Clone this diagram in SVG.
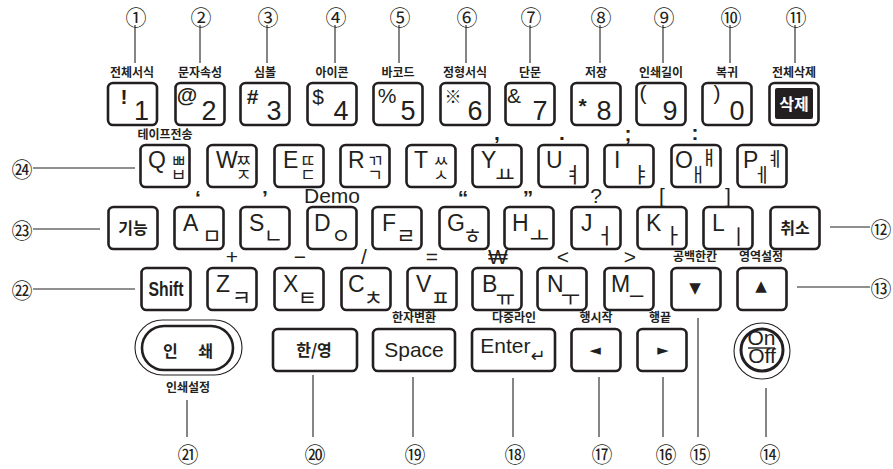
<svg xmlns="http://www.w3.org/2000/svg" width="893" height="469" viewBox="0 0 893 469">
<style>
.key{fill:#fff;stroke:#231f20;stroke-width:2.6}
.lead{stroke:#231f20;stroke-width:1.1;fill:none}
text{fill:#231f20}
.num{font-family:'Noto Sans CJK KR',sans-serif;font-size:21px;text-anchor:middle;dominant-baseline:central}
.lbl{font-family:'Noto Sans CJK KR',sans-serif;font-weight:700;font-size:12px;text-anchor:middle}
.sym{font-family:'Liberation Sans',Arial,'DejaVu Sans',sans-serif;font-size:21px;text-anchor:middle}
.dig{font-family:'Liberation Sans',Arial,sans-serif;font-size:27px;text-anchor:middle}
.let{font-family:'Liberation Sans',Arial,sans-serif;font-size:23px;text-anchor:start}
.jm{font-family:'Noto Sans CJK KR',sans-serif;font-size:21px;text-anchor:middle}
.js{font-family:'Noto Sans CJK KR',sans-serif;font-size:17px;text-anchor:middle}
.jv{font-family:'Noto Sans CJK KR',sans-serif;font-size:19px;text-anchor:middle}
.kb{font-family:'Noto Sans CJK KR',sans-serif;font-weight:700;font-size:16px;text-anchor:middle}
.b{font-weight:700}
.ar{font-family:'DejaVu Sans',sans-serif;font-size:15px;text-anchor:middle}
</style>

<g id="connectors">
<line class="lead" x1="135" y1="25" x2="135" y2="63"/>
<line class="lead" x1="200" y1="25" x2="200" y2="63"/>
<line class="lead" x1="267" y1="25" x2="267" y2="63"/>
<line class="lead" x1="335" y1="25" x2="335" y2="63"/>
<line class="lead" x1="399" y1="25" x2="399" y2="63"/>
<line class="lead" x1="466" y1="25" x2="466" y2="63"/>
<line class="lead" x1="530" y1="25" x2="530" y2="63"/>
<line class="lead" x1="600" y1="25" x2="600" y2="63"/>
<line class="lead" x1="663" y1="25" x2="663" y2="63"/>
<line class="lead" x1="730" y1="25" x2="730" y2="63"/>
<line class="lead" x1="795" y1="25" x2="795" y2="63"/>
<line class="lead" x1="33" y1="168" x2="135" y2="168"/>
<line class="lead" x1="33" y1="229" x2="100" y2="229"/>
<line class="lead" x1="33" y1="289" x2="135" y2="289"/>
<line class="lead" x1="830" y1="227" x2="870" y2="227"/>
<line class="lead" x1="797" y1="287" x2="870" y2="287"/>
<line class="lead" x1="187" y1="400" x2="187" y2="437"/>
<line class="lead" x1="313" y1="375" x2="313" y2="437"/>
<line class="lead" x1="413" y1="377" x2="413" y2="437"/>
<line class="lead" x1="513" y1="378" x2="513" y2="437"/>
<line class="lead" x1="599" y1="377" x2="599" y2="437"/>
<line class="lead" x1="663" y1="377" x2="663" y2="437"/>
<line class="lead" x1="698" y1="318" x2="698" y2="437"/>
<line class="lead" x1="766" y1="388" x2="766" y2="437"/>
</g>

<g id="callouts">
<text class="num" x="136" y="16">①</text>
<text class="num" x="201" y="16">②</text>
<text class="num" x="268" y="16">③</text>
<text class="num" x="336" y="16">④</text>
<text class="num" x="400" y="16">⑤</text>
<text class="num" x="467" y="16">⑥</text>
<text class="num" x="531" y="16">⑦</text>
<text class="num" x="601" y="16">⑧</text>
<text class="num" x="664" y="16">⑨</text>
<text class="num" x="731" y="16">⑩</text>
<text class="num" x="796" y="16">⑪</text>
<text class="num" x="881" y="228">⑫</text>
<text class="num" x="881" y="287">⑬</text>
<text class="num" x="770" y="453">⑭</text>
<text class="num" x="700" y="453">⑮</text>
<text class="num" x="666" y="453">⑯</text>
<text class="num" x="602" y="453">⑰</text>
<text class="num" x="515" y="453">⑱</text>
<text class="num" x="415" y="453">⑲</text>
<text class="num" x="315" y="453">⑳</text>
<text class="num" x="188" y="453">㉑</text>
<text class="num" x="22" y="289">㉒</text>
<text class="num" x="22" y="229">㉓</text>
<text class="num" x="22" y="168">㉔</text>
</g>

<g id="labels">
<text class="lbl" x="132" y="77">전체서식</text>
<text class="lbl" x="200" y="77">문자속성</text>
<text class="lbl" x="265" y="77">심볼</text>
<text class="lbl" x="332" y="77">아이콘</text>
<text class="lbl" x="398" y="77">바코드</text>
<text class="lbl" x="465" y="77">정형서식</text>
<text class="lbl" x="530" y="77">단문</text>
<text class="lbl" x="596" y="77">저장</text>
<text class="lbl" x="661" y="77">인쇄길이</text>
<text class="lbl" x="727" y="77">복귀</text>
<text class="lbl" x="794" y="77">전체삭제</text>
<text class="lbl" x="165" y="139">테이프전송</text>
<text class="lbl" x="695" y="261">공백한칸</text>
<text class="lbl" x="761" y="261">영역설정</text>
<text class="lbl" x="414" y="322">한자변환</text>
<text class="lbl" x="514" y="322">다중라인</text>
<text class="lbl" x="596" y="322">행시작</text>
<text class="lbl" x="660" y="322">행끝</text>
<text class="lbl" x="188" y="392">인쇄설정</text>
<text class="sym b" x="497" y="140" font-size="16">,</text>
<text class="sym b" x="562" y="140" font-size="16">.</text>
<text class="sym b" x="628" y="141" font-size="16">;</text>
<text class="sym b" x="695" y="140" font-size="16">:</text>
<text class="sym b" x="198" y="205" font-size="18">‘</text>
<text class="sym b" x="265" y="205" font-size="18">’</text>
<text class="sym" x="332" y="203" font-size="15">Demo</text>
<text class="sym b" x="463" y="205" font-size="18">“</text>
<text class="sym b" x="528" y="205" font-size="18">”</text>
<text class="sym" x="596" y="203" font-size="17">?</text>
<text class="sym" x="662" y="203" font-size="17">[</text>
<text class="sym" x="728" y="203" font-size="17">]</text>
<text class="sym" x="232" y="264" font-size="20">+</text>
<text class="sym" x="300" y="264" font-size="20">−</text>
<text class="sym" x="364" y="264" font-size="20">/</text>
<text class="sym" x="432" y="264" font-size="20">=</text>
<text class="sym" x="498" y="264" font-size="20">₩</text>
<text class="sym" x="563" y="264" font-size="20">&lt;</text>
<text class="sym" x="630" y="264" font-size="20">&gt;</text>
</g>

<!-- Row 1 -->
<g id="key-1"><rect class="key" x="108" y="83" width="49" height="42" rx="5"/><text class="sym b" x="124" y="104">!</text><text class="dig" x="141.5" y="120">1</text></g>
<g id="key-2"><rect class="key" x="175.5" y="83" width="49" height="42" rx="5"/><text class="sym b" x="187" y="102" font-size="19">@</text><text class="dig" x="209" y="120">2</text></g>
<g id="key-3"><rect class="key" x="240.5" y="83" width="49" height="42" rx="5"/><text class="sym b" x="252.5" y="104">#</text><text class="dig" x="274" y="120">3</text></g>
<g id="key-4"><rect class="key" x="307.5" y="83" width="49" height="42" rx="5"/><text class="sym" x="318" y="104">$</text><text class="dig" x="341" y="120">4</text></g>
<g id="key-5"><rect class="key" x="373.5" y="83" width="49" height="42" rx="5"/><text class="sym" x="387" y="103" font-size="19">%</text><text class="dig" x="408" y="120">5</text></g>
<g id="key-6"><rect class="key" x="440.5" y="83" width="49" height="42" rx="5"/><text class="js" x="453" y="103" font-size="17">※</text><text class="dig" x="475" y="120">6</text></g>
<g id="key-7"><rect class="key" x="505.5" y="83" width="49" height="42" rx="5"/><text class="sym" x="514" y="103" font-size="19">&amp;</text><text class="dig" x="540" y="120">7</text></g>
<g id="key-8"><rect class="key" x="571.5" y="83" width="49" height="42" rx="5"/><text class="sym b" x="582.5" y="113" font-size="30">*</text><text class="dig" x="604" y="120">8</text></g>
<g id="key-9"><rect class="key" x="636.5" y="83" width="49" height="42" rx="5"/><text class="sym" x="643" y="100" font-size="14">(</text><text class="dig" x="670" y="120">9</text></g>
<g id="key-0"><rect class="key" x="702.5" y="83" width="49" height="42" rx="5"/><text class="sym" x="717" y="100" font-size="14">)</text><text class="dig" x="737" y="120">0</text></g>
<g id="key-delete"><rect class="key" x="769.5" y="83" width="49" height="42" rx="5"/><rect x="775" y="88" width="38" height="31" rx="2" fill="#231f20"/><text class="kb" x="794" y="110" font-size="17" style="fill:#fff">삭제</text></g>

<!-- Row 2 -->
<g id="key-q"><rect class="key" x="140.5" y="145" width="49" height="42" rx="5"/><text class="let"><tspan x="148" y="168">Q</tspan><tspan class="js" x="178.5" y="167">ㅃ</tspan><tspan class="js" x="178.5" y="181">ㅂ</tspan></text></g>
<g id="key-w"><rect class="key" x="207.5" y="145" width="49" height="42" rx="5"/><text class="let"><tspan x="216" y="168">W</tspan><tspan class="js" x="243.5" y="167">ㅉ</tspan><tspan class="js" x="243.5" y="181">ㅈ</tspan></text></g>
<g id="key-e"><rect class="key" x="274.5" y="145" width="49" height="42" rx="5"/><text class="let"><tspan x="283" y="168">E</tspan><tspan class="js" x="308" y="167">ㄸ</tspan><tspan class="js" x="308" y="181">ㄷ</tspan></text></g>
<g id="key-r"><rect class="key" x="340.5" y="145" width="49" height="42" rx="5"/><text class="let"><tspan x="348" y="168">R</tspan><tspan class="js" x="375" y="167">ㄲ</tspan><tspan class="js" x="375" y="181">ㄱ</tspan></text></g>
<g id="key-t"><rect class="key" x="406.5" y="145" width="49" height="42" rx="5"/><text class="let"><tspan x="414" y="168">T</tspan><tspan class="js" x="441" y="167">ㅆ</tspan><tspan class="js" x="441" y="181">ㅅ</tspan></text></g>
<g id="key-y"><rect class="key" x="472.5" y="145" width="49" height="42" rx="5"/><text class="let"><tspan x="481" y="168">Y</tspan><tspan class="jm" x="505" y="182">ㅛ</tspan></text></g>
<g id="key-u"><rect class="key" x="538.5" y="145" width="49" height="42" rx="5"/><text class="let"><tspan x="546" y="168">U</tspan><tspan class="jm" x="573" y="182">ㅕ</tspan></text></g>
<g id="key-i"><rect class="key" x="604.5" y="145" width="49" height="42" rx="5"/><text class="let"><tspan x="614" y="168">I</tspan><tspan class="jm" x="641" y="182">ㅑ</tspan></text></g>
<g id="key-o"><rect class="key" x="671.5" y="145" width="49" height="42" rx="5"/><text class="let"><tspan x="675" y="168">O</tspan><tspan class="jv" x="698" y="182">ㅐ</tspan><tspan class="jv" x="709" y="165">ㅒ</tspan></text></g>
<g id="key-p"><rect class="key" x="737.5" y="145" width="49" height="42" rx="5"/><text class="let"><tspan x="743" y="168">P</tspan><tspan class="jv" x="762" y="182">ㅔ</tspan><tspan class="jv" x="775" y="166">ㅖ</tspan></text></g>

<!-- Row 3 -->
<g id="key-function"><rect class="key" x="108.5" y="207" width="49" height="42" rx="5"/><text class="kb" x="133" y="234">기능</text></g>
<g id="key-a"><rect class="key" x="174.5" y="207" width="49" height="42" rx="5"/><text class="let"><tspan x="183" y="231">A</tspan><tspan class="jm" x="212" y="243">ㅁ</tspan></text></g>
<g id="key-s"><rect class="key" x="240.5" y="207" width="49" height="42" rx="5"/><text class="let"><tspan x="249" y="231">S</tspan><tspan class="jm" x="273.5" y="243">ㄴ</tspan></text></g>
<g id="key-d"><rect class="key" x="307.5" y="207" width="49" height="42" rx="5"/><text class="let"><tspan x="314" y="231">D</tspan><tspan class="jm" x="341" y="243">ㅇ</tspan></text></g>
<g id="key-f"><rect class="key" x="372.5" y="207" width="49" height="42" rx="5"/><text class="let"><tspan x="382" y="231">F</tspan><tspan class="jm" x="406" y="243">ㄹ</tspan></text></g>
<g id="key-g"><rect class="key" x="439.5" y="207" width="49" height="42" rx="5"/><text class="let"><tspan x="447" y="231">G</tspan><tspan class="jm" x="472.5" y="243">ㅎ</tspan></text></g>
<g id="key-h"><rect class="key" x="504.5" y="207" width="49" height="42" rx="5"/><text class="let"><tspan x="512" y="231">H</tspan><tspan class="jm" x="539.5" y="243">ㅗ</tspan></text></g>
<g id="key-j"><rect class="key" x="571.5" y="207" width="49" height="42" rx="5"/><text class="let"><tspan x="581" y="231">J</tspan><tspan class="jm" x="605" y="243">ㅓ</tspan></text></g>
<g id="key-k"><rect class="key" x="637.5" y="207" width="49" height="42" rx="5"/><text class="let"><tspan x="646" y="231">K</tspan><tspan class="jm" x="673" y="243">ㅏ</tspan></text></g>
<g id="key-l"><rect class="key" x="703.5" y="207" width="49" height="42" rx="5"/><text class="let"><tspan x="712" y="231">L</tspan><tspan class="jm" x="738.5" y="244">ㅣ</tspan></text></g>
<g id="key-cancel"><rect class="key" x="770.5" y="207" width="49" height="42" rx="5"/><text class="kb" x="795" y="234">취소</text></g>

<!-- Row 4 -->
<g id="key-shift"><rect class="key" x="141.5" y="268" width="49" height="42" rx="5"/><text class="sym b" x="166" y="296" font-size="19" textLength="35" lengthAdjust="spacingAndGlyphs">Shift</text></g>
<g id="key-z"><rect class="key" x="207.5" y="268" width="49" height="42" rx="5"/><text class="let"><tspan x="216" y="292">Z</tspan><tspan class="jm" x="241.5" y="305">ㅋ</tspan></text></g>
<g id="key-x"><rect class="key" x="274.5" y="268" width="49" height="42" rx="5"/><text class="let"><tspan x="283" y="292">X</tspan><tspan class="jm" x="307.5" y="305">ㅌ</tspan></text></g>
<g id="key-c"><rect class="key" x="341.5" y="268" width="49" height="42" rx="5"/><text class="let"><tspan x="348" y="292">C</tspan><tspan class="jm" x="373.5" y="305">ㅊ</tspan></text></g>
<g id="key-v"><rect class="key" x="407.5" y="268" width="49" height="42" rx="5"/><text class="let"><tspan x="416" y="292">V</tspan><tspan class="jm" x="440.5" y="305">ㅍ</tspan></text></g>
<g id="key-b"><rect class="key" x="472.5" y="268" width="49" height="42" rx="5"/><text class="let"><tspan x="482" y="292">B</tspan><tspan class="jm" x="505.5" y="305">ㅠ</tspan></text></g>
<g id="key-n"><rect class="key" x="537.5" y="268" width="49" height="42" rx="5"/><text class="let"><tspan x="547" y="292">N</tspan><tspan class="jm" x="570.5" y="305">ㅜ</tspan></text></g>
<g id="key-m"><rect class="key" x="604.5" y="268" width="49" height="42" rx="5"/><text class="let" x="611" y="292">M_</text></g>
<g id="key-down"><rect class="key" x="671.5" y="268" width="49" height="42" rx="5"/><text class="ar" x="695" y="293">▼</text></g>
<g id="key-up"><rect class="key" x="737.5" y="268" width="49" height="42" rx="5"/><text class="ar" x="761" y="291">▲</text></g>

<!-- Row 5 -->
<g id="key-print"><rect x="135" y="320" width="107" height="55" rx="27.5" fill="#fff" stroke="#231f20" stroke-width="1.1"/><rect class="key" x="142" y="326" width="91" height="44" rx="22" stroke-width="3"/><text class="kb" x="188" y="357" font-size="19" textLength="50" lengthAdjust="spacing">인 쇄</text></g>
<g id="key-hanyoung"><rect class="key" x="273" y="329" width="84" height="42" rx="5"/><text class="kb" x="314" y="356" font-size="17">한/영</text></g>
<g id="key-space"><rect class="key" x="373" y="329" width="82" height="42" rx="5"/><text class="sym" x="414" y="357" font-size="21">Space</text></g>
<g id="key-enter"><rect class="key" x="472" y="329" width="83" height="42" rx="5"/><text class="sym" x="513" y="353" font-size="20">Enter<tspan font-family="'DejaVu Sans',sans-serif" font-size="18" dy="9">↵</tspan></text></g>
<g id="key-left"><rect class="key" x="571.5" y="329" width="49" height="42" rx="5"/><text class="ar" x="595" y="355" font-size="16">◄</text></g>
<g id="key-right"><rect class="key" x="637.5" y="329" width="49" height="42" rx="5"/><text class="ar" x="663" y="355" font-size="16">►</text></g>
<g id="key-onoff"><circle cx="762" cy="351" r="28" fill="#fff" stroke="#231f20" stroke-width="1.1"/><circle cx="762" cy="350" r="21" fill="#fff" stroke="#231f20" stroke-width="3"/><text class="sym" font-size="15"><tspan x="761.5" y="345">On</tspan><tspan x="762" y="363">Off</tspan></text><line x1="748" y1="348" x2="775" y2="348" stroke="#231f20" stroke-width="1.4"/></g>
</svg>
